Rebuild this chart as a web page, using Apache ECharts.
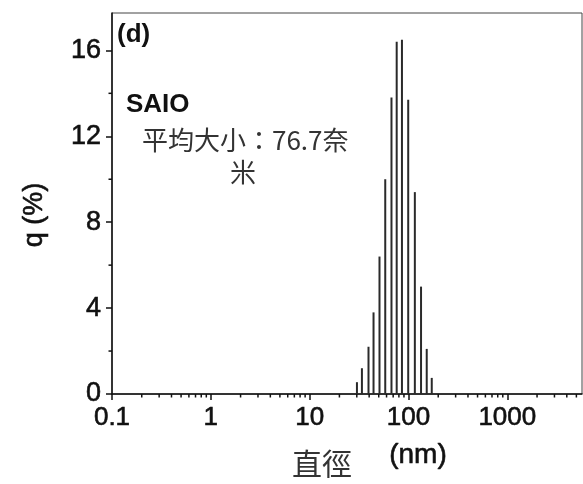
<!DOCTYPE html>
<html>
<head>
  <meta charset="utf-8">
  <title>SAIO size distribution</title>
  <script src="https://cdn.jsdelivr.net/npm/echarts@6/dist/echarts.min.js"></script>
  <style>
    html, body { margin: 0; padding: 0; background: #fff; }
    #chart { width: 583px; height: 484px; }
  </style>
</head>
<body>
<div id="chart"></div>
<script>
  // diameters (nm) and intensity (%)
  var diameters = [30.1, 33.8, 39.4, 44.3, 50.9, 58.2, 67.3, 76.0, 85.9, 99.4, 116, 134, 153, 172];
  var qValues = [0.55, 1.2, 2.2, 3.8, 6.4, 10.0, 13.8, 16.4, 16.5, 13.7, 9.4, 5.0, 2.1, 0.75];
  var decades = [0.1, 1, 10, 100, 1000];
  var minorY = [2, 6, 10, 14];

  // minor ticks for the log axis at 2..9 of every decade
  var minorX = [];
  decades.forEach(function (d) {
    for (var k = 2; k <= 9; k++) {
      if (d * k < 5700) minorX.push(d * k);
    }
  });

  var ink = '#111';
  var tickFont = 'Liberation Sans';
  var chart = echarts.init(document.getElementById('chart'));

  function tickMark(dx, dy) {
    return function (params, api) {
      var p = api.coord([api.value(0), api.value(1)]);
      return {
        type: 'line',
        shape: { x1: p[0], y1: p[1], x2: p[0] + dx, y2: p[1] + dy },
        style: { stroke: ink, lineWidth: 1.5 }
      };
    };
  }

  chart.setOption({
    animation: false,
    grid: {
      left: 112, top: 13, right: 1, bottom: 90,
      show: true, borderColor: '#444', borderWidth: 1
    },
    xAxis: {
      type: 'log', logBase: 10, min: 0.1, max: 5700,
      axisLine: { lineStyle: { color: ink, width: 1.5 } },
      axisTick: { length: 6, lineStyle: { color: ink, width: 1.5 } },
      axisLabel: {
        color: ink, fontSize: 26, fontFamily: tickFont, margin: 11,
        textBorderColor: ink, textBorderWidth: 0.6,
        showMaxLabel: false,
        formatter: function (v) { return String(+v.toPrecision(4)); }
      },
      splitLine: { show: false }
    },
    yAxis: {
      type: 'value', min: 0, max: 17.74, interval: 4,
      axisLine: { show: true, lineStyle: { color: ink, width: 1.5 } },
      axisTick: { show: true, length: 6, lineStyle: { color: ink, width: 1.5 } },
      axisLabel: {
        color: ink, fontSize: 27, fontFamily: tickFont, margin: 11,
        textBorderColor: ink, textBorderWidth: 0.6,
        showMaxLabel: false
      },
      splitLine: { show: false }
    },
    series: [
      {
        type: 'custom',
        data: diameters.map(function (d, i) { return [d, qValues[i]]; }),
        renderItem: function (params, api) {
          var p0 = api.coord([api.value(0), 0]);
          var p1 = api.coord([api.value(0), api.value(1)]);
          return {
            type: 'line',
            shape: { x1: p0[0], y1: p0[1], x2: p1[0], y2: p1[1] },
            style: { stroke: '#2a2a2a', lineWidth: 2 }
          };
        }
      },
      {
        type: 'custom', silent: true,
        data: minorX.map(function (v) { return [v, 0]; }),
        renderItem: tickMark(0, 3.5)
      },
      {
        type: 'custom', silent: true,
        data: minorY.map(function (v) { return [0.1, v]; }),
        renderItem: tickMark(-3.5, 0)
      }
    ],
    graphic: [
      { type: 'text', x: 35, y: 215, rotation: Math.PI / 2,
        style: { text: 'q (%)', font: '27px "Liberation Sans"', fill: ink,
                 stroke: ink, lineWidth: 0.6,
                 align: 'center', verticalAlign: 'middle' } },
      { type: 'text', x: 117, y: 35,
        style: { text: '(d)', font: 'bold 26px "Liberation Sans"', fill: '#111',
                 verticalAlign: 'middle' } },
      { type: 'text', x: 126, y: 105,
        style: { text: 'SAIO', font: 'bold 26px "Liberation Sans"', fill: '#111',
                 verticalAlign: 'middle' } },
      { type: 'text', x: 142, y: 140,
        style: { text: '平均大小：76.7奈', font: '26px "Noto Sans CJK TC"', fill: '#333',
                 verticalAlign: 'middle' } },
      { type: 'text', x: 243, y: 172,
        style: { text: '米', font: '26px "Noto Sans CJK TC"', fill: '#333',
                 align: 'center', verticalAlign: 'middle' } },
      { type: 'text', x: 418, y: 455,
        style: { text: '(nm)', font: '28px "Liberation Sans"', fill: ink,
                 stroke: ink, lineWidth: 0.6,
                 align: 'center', verticalAlign: 'middle' } },
      { type: 'text', x: 322, y: 464,
        style: { text: '直徑', font: '30px "Noto Sans CJK TC"', fill: '#333',
                 align: 'center', verticalAlign: 'middle' } }
    ]
  });
</script>
</body>
</html>
